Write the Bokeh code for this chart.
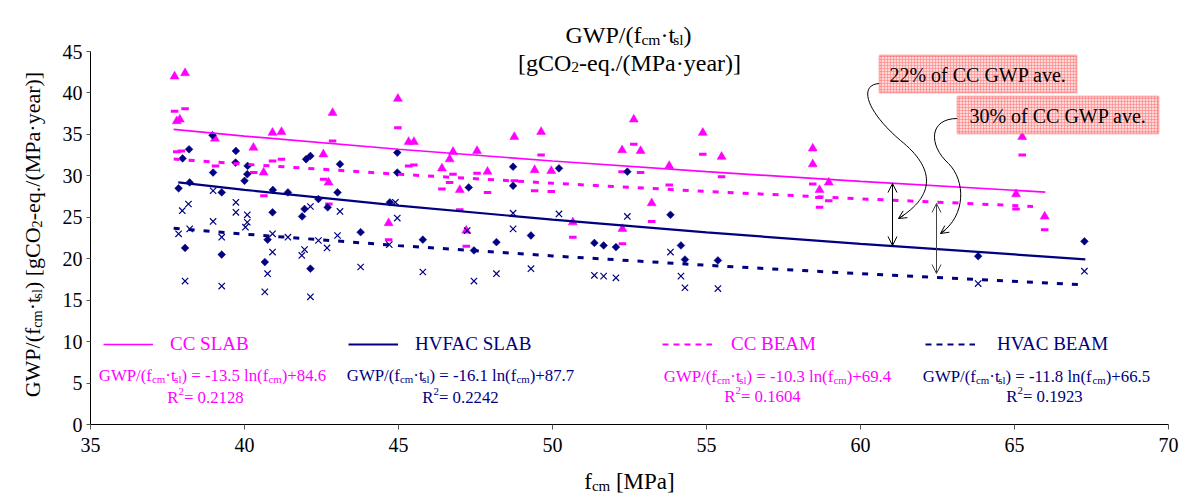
import numpy as np
from bokeh.plotting import figure
from bokeh.models import (Range1d, FixedTicker, Label, Legend, LegendItem,
                          BoxAnnotation, Arrow, OpenHead)
from bokeh.embed import file_html
from bokeh.resources import INLINE

# ---------------- data ----------------
x_ticks = [35, 40, 45, 50, 55, 60, 65, 70]
y_ticks = [0, 5, 10, 15, 20, 25, 30, 35, 40, 45]

cc_slab_fcm = [37.73, 38.07, 37.80, 37.90, 39.04, 40.29, 40.62, 40.91, 41.20, 42.86,
               42.56, 42.73, 44.98, 44.68, 45.33, 45.50, 46.77, 46.66, 46.41, 46.99,
               47.20, 47.55, 47.89, 48.76, 49.63, 49.42, 49.96, 50.66, 52.26, 52.64,
               52.86, 52.27, 53.22, 53.79, 54.88, 55.49, 58.45, 58.45, 58.67, 58.97,
               65.25, 65.05, 65.98]
cc_slab_gwp = [42.0, 42.4, 36.6, 36.8, 34.5, 33.4, 30.4, 35.2, 35.3, 37.6,
               32.6, 29.2, 39.3, 24.3, 34.1, 34.1, 32.9, 32.0, 30.9, 28.3,
               23.4, 33.0, 30.5, 34.7, 35.3, 30.7, 30.6, 24.4, 33.1, 36.8,
               33.0, 23.6, 26.7, 31.2, 35.2, 32.3, 33.3, 31.4, 28.3, 29.2,
               34.7, 27.8, 25.1]

cc_beam_fcm = [37.73, 38.07, 37.80, 37.95, 39.06, 40.30, 40.63, 40.91, 41.20, 42.86,
               42.57, 42.74, 44.98, 44.68, 45.33, 45.50, 46.77, 46.66, 46.41, 46.99,
               47.20, 47.55, 47.89, 48.76, 49.63, 49.42, 49.96, 50.66, 52.26, 52.64,
               52.86, 52.27, 53.22, 53.79, 54.88, 55.49, 58.45, 58.65, 58.67, 58.97,
               65.25, 65.05, 65.98]
cc_beam_gwp = [37.8, 38.1, 32.9, 33.0, 31.2, 30.4, 27.6, 31.8, 32.0, 34.2,
               29.6, 26.6, 35.8, 22.3, 31.2, 31.3, 30.2, 29.2, 28.4, 25.9,
               21.5, 30.3, 28.0, 29.4, 32.5, 28.2, 28.1, 22.6, 30.5, 33.8,
               30.4, 21.8, 24.5, 28.9, 32.6, 29.9, 29.0, 27.4, 26.2, 27.0,
               32.5, 26.0, 23.5]

hvfac_slab_fcm = [38.96, 38.20, 37.99, 38.98, 39.72, 39.71, 40.10, 40.09, 40.00, 38.22,
                  37.86, 39.26, 40.92, 41.41, 42.00, 42.14, 43.10, 42.40, 43.02, 44.96,
                  44.96, 44.72, 40.91, 41.87, 41.95, 42.70, 43.77, 38.07, 39.26, 40.75,
                  40.66, 42.14, 45.79, 47.28, 47.45, 48.18, 48.72, 48.72, 49.30, 50.21,
                  51.36, 51.66, 52.06, 52.43, 53.83, 54.17, 54.30, 55.37, 63.82, 67.27]
hvfac_slab_gwp = [34.9, 33.2, 32.1, 30.4, 33.0, 31.6, 31.2, 30.2, 29.4, 29.2,
                  28.5, 28.0, 28.3, 28.0, 32.0, 32.4, 31.4, 27.2, 28.0, 32.8,
                  30.4, 26.8, 25.6, 25.1, 26.0, 26.2, 23.2, 21.3, 20.5, 22.3,
                  19.6, 18.8, 22.3, 28.6, 21.0, 22.0, 31.1, 28.8, 22.8, 30.9,
                  21.9, 21.6, 21.4, 30.5, 25.3, 21.6, 19.9, 19.8, 20.3, 22.1]

hvac_beam_fcm = [38.18, 37.98, 39.72, 39.72, 40.09, 40.09, 40.03, 38.98, 38.22, 37.86,
                 39.26, 40.91, 40.91, 41.41, 41.95, 41.86, 42.14, 42.40, 42.68, 43.02,
                 43.10, 43.77, 44.90, 44.96, 44.70, 38.07, 39.26, 40.75, 40.66, 42.14,
                 38.98, 45.79, 47.23, 47.45, 48.18, 48.72, 48.72, 49.30, 50.21, 51.36,
                 51.66, 52.06, 52.43, 53.83, 54.17, 54.30, 55.37, 63.82, 67.27]
hvac_beam_gwp = [26.6, 25.8, 26.8, 25.6, 25.3, 24.4, 23.8, 24.5, 23.6, 23.0,
                 22.6, 23.0, 20.8, 22.6, 21.1, 20.4, 26.3, 22.2, 21.3, 22.8,
                 25.7, 19.0, 26.8, 24.9, 21.7, 17.3, 16.7, 18.2, 16.0, 15.4,
                 28.2, 18.4, 23.4, 17.3, 18.2, 25.5, 23.6, 18.8, 25.4, 18.0,
                 17.9, 17.7, 25.1, 20.8, 17.9, 16.5, 16.4, 17.0, 18.5]

# trend lines (log fits)
cc_slab_fit_x = [37.7, 40, 45, 50, 55, 60, 66.0]
cc_slab_fit_y = [35.60, 34.80, 33.21, 31.79, 30.50, 29.33, 28.04]
hvfac_slab_fit_x = [37.85, 40, 45, 50, 55, 60, 67.3]
hvfac_slab_fit_y = [29.20, 28.31, 26.41, 24.72, 23.18, 21.78, 19.93]
cc_beam_fit_x = [37.7, 40, 45, 50, 55, 60, 65.6]
cc_beam_fit_y = [32.02, 31.40, 30.19, 29.11, 28.12, 27.23, 26.31]
hvac_beam_fit_x = [37.7, 40, 45, 50, 55, 60, 67.3]
hvac_beam_fit_y = [23.67, 22.97, 21.58, 20.34, 19.21, 18.19, 16.83]

# ---------------- styling ----------------
MAG = "#FF00FF"
NAVY = "#000080"
FONT = "Liberation Serif"
W, H = 1192, 493

# pixel geometry of the axes box (for placing annotations)
FL, FR, FT, FB = 90, 1168, 51, 424
def X(px):
    return 35 + (px - FL) * 35.0 / (FR - FL)
def Y(py):
    return (FB - py) * 45.0 / (FB - FT)

# the frame covers the whole canvas; axes sit at fixed spots inside it
p = figure(width=W, height=H,
           x_range=Range1d(X(0), X(W)), y_range=Range1d(Y(H), Y(0)),
           output_backend="svg", toolbar_location=None, min_border=0)
p.outline_line_color = None
p.grid.visible = False
p.background_fill_color = "white"
p.border_fill_color = "white"

p.xaxis.fixed_location = 0
p.yaxis.fixed_location = 35
p.xaxis.bounds = (35, 70)
p.yaxis.bounds = (0, 45)
p.axis.axis_line_color = "black"
p.axis.axis_line_width = 1
p.axis.major_tick_line_color = "#555555"
p.axis.minor_tick_line_color = None
p.axis.major_tick_in = 0
p.axis.major_label_text_font = FONT
p.axis.major_label_text_font_size = "20px"
p.axis.major_label_text_color = "black"
p.xaxis.ticker = FixedTicker(ticks=x_ticks)
p.yaxis.ticker = FixedTicker(ticks=y_ticks)
p.xaxis.major_tick_out = 5
p.yaxis.major_tick_out = 4
p.xaxis.major_label_standoff = 8
p.yaxis.major_label_standoff = 4

# ---------------- markers ----------------
p.scatter(cc_slab_fcm, cc_slab_gwp, marker="triangle", size=9,
          fill_color=MAG, line_color=MAG, line_width=0.5)
p.scatter(cc_beam_fcm, cc_beam_gwp, marker="dash", size=7.5,
          line_color=MAG, line_width=3)
p.scatter(hvfac_slab_fcm, hvfac_slab_gwp, marker="square", size=5.5, angle=np.pi / 4,
          fill_color=NAVY, line_color=NAVY, line_width=0.5)
p.scatter(hvac_beam_fcm, hvac_beam_gwp, marker="x", size=9,
          line_color=NAVY, line_width=1.2)

# ---------------- trend lines ----------------
p.line(cc_slab_fit_x, cc_slab_fit_y, line_color=MAG, line_width=1.7)
p.line(hvfac_slab_fit_x, hvfac_slab_fit_y, line_color=NAVY, line_width=2.2)
p.line(cc_beam_fit_x, cc_beam_fit_y, line_color=MAG, line_width=3, line_dash="6 9")
p.line(hvac_beam_fit_x, hvac_beam_fit_y, line_color=NAVY, line_width=3, line_dash="6 9")

# legend keys (renderers holding no visible point, only used for legend glyphs)
k1 = p.line([np.nan], [np.nan], line_color=MAG, line_width=1.7)
k2 = p.line([np.nan], [np.nan], line_color=NAVY, line_width=2.2)
k3 = p.line([np.nan], [np.nan], line_color=MAG, line_width=2.2, line_dash="6 5")
k4 = p.line([np.nan], [np.nan], line_color=NAVY, line_width=2.2, line_dash="6 5")

def add_legend(label, rend, color, gx, gx_label):
    leg = Legend(items=[LegendItem(label=label, renderers=[rend])],
                 location=(gx, H - 355), orientation="horizontal",
                 padding=0, margin=0, spacing=0, glyph_width=50, glyph_height=20,
                 label_height=20, label_standoff=gx_label - gx - 50,
                 border_line_color=None, background_fill_alpha=0,
                 label_text_font=FONT, label_text_font_size="19px",
                 label_text_color=color)
    p.add_layout(leg)

add_legend("CC SLAB", k1, MAG, 103, 170)
add_legend("HVFAC SLAB", k2, NAVY, 348, 415)
add_legend("CC BEAM", k3, MAG, 662, 731)
add_legend("HVAC BEAM", k4, NAVY, 925, 997)

# ---------------- rich text helper ----------------
WID = {' ': 250, '!': 333, '%': 833, '(': 333, ')': 333, '+': 564, ',': 250, '-': 333,
       '.': 250, '/': 278, '=': 564, '[': 333, ']': 333, '·': 250,
       'A': 722, 'B': 667, 'C': 667, 'E': 611, 'F': 556, 'G': 722, 'H': 722, 'L': 611,
       'M': 889, 'O': 722, 'P': 556, 'R': 667, 'S': 556, 'V': 722, 'W': 944,
       'a': 444, 'c': 444, 'e': 444, 'f': 333, 'g': 500, 'l': 278, 'm': 778, 'n': 500,
       'o': 500, 'q': 500, 'r': 333, 's': 389, 't': 278, 'v': 500, 'y': 500}

def tw(s, size):
    return sum(WID.get(ch, 500) for ch in s) * size / 1000.0

def rich(x, y, runs, size, color, align="center", rotated=False):
    sizes = [size * 0.65 if k != "n" else size for _, k in runs]
    widths = [tw(t, s) for (t, _), s in zip(runs, sizes)]
    total = sum(widths)
    pos = {"left": 0, "center": -total / 2, "right": -total}[align]
    for (t, k), s, w in zip(runs, sizes, widths):
        shift = {"n": 0, "sub": -0.2 * size, "sup": 0.38 * size}[k]
        txt = t.lstrip(" ")
        lead = tw(t[:len(t) - len(txt)], s)      # svg drops leading blanks
        if rotated:
            xo, yo, ang = -shift, pos + lead, np.pi / 2
        else:
            xo, yo, ang = pos + lead, shift, 0
        p.add_layout(Label(x=x, y=y, x_offset=xo, y_offset=yo, text=txt, angle=ang,
                           text_font=FONT, text_font_size=f"{s:.1f}px",
                           text_color=color, text_align="left",
                           text_baseline="alphabetic"))
        pos += w

def formula(slope, icpt):
    return [("GWP/(f", "n"), ("cm", "sub"), ("·t", "n"), ("sl", "sub"),
            (f") = {slope} ln(f", "n"), ("cm", "sub"), (f")+{icpt}", "n")]

def r2(v):
    return [("R", "n"), ("2", "sup"), (f"= {v}", "n")]

FS = 16.8
rich(X(212), Y(375), formula("-13.5", "84.6"), FS, MAG)
rich(X(205), Y(397), r2("0.2128"), FS, MAG)
rich(X(460), Y(375), formula("-16.1", "87.7"), FS, NAVY)
rich(X(460), Y(397), r2("0.2242"), FS, NAVY)
rich(X(777), Y(376), formula("-10.3", "69.4"), FS, MAG)
rich(X(762), Y(396), r2("0.1604"), FS, MAG)
rich(X(1036), Y(376), formula("-11.8", "66.5"), FS, NAVY)
rich(X(1044), Y(396), r2("0.1923"), FS, NAVY)

# title
rich(X(628), Y(34), [("GWP/(f", "n"), ("cm", "sub"), ("·t", "n"), ("sl", "sub"), (")", "n")],
     24, "black")
rich(X(628), Y(62), [("[gCO", "n"), ("2", "sub"), ("-eq./(MPa·year)]", "n")], 24, "black")

# axis titles
rich(X(629), Y(481), [("f", "n"), ("cm", "sub"), (" [MPa]", "n")], 23, "black")
rich(X(32), Y(235), [("GWP/(f", "n"), ("cm", "sub"), ("·t", "n"), ("sl", "sub"),
                     (") [gCO", "n"), ("2", "sub"), ("-eq./(MPa·year)]", "n")],
     22, "black", rotated=True)

# ---------------- annotations ----------------
for (l, r, t, b, txt) in [(879, 1076, 55, 92, "22% of CC GWP ave."),
                          (957, 1158, 96, 133, "30% of CC GWP ave.")]:
    p.add_layout(BoxAnnotation(left=X(l), right=X(r), top=Y(t), bottom=Y(b),
                               fill_color="#FFD9D9", fill_alpha=1.0,
                               line_color="#FF2020", line_width=2,
                               hatch_pattern="+", hatch_color="#FF8080",
                               hatch_scale=3, hatch_weight=0.6, hatch_alpha=1.0))
    p.add_layout(Label(x=X((l + r) / 2), y=Y((t + b) / 2 + 1), text=txt,
                       text_font=FONT, text_font_size="20px", text_color="black",
                       text_align="center", text_baseline="middle"))

# double-headed arrows
for ax_px, y0, y1, col in [(892, 183, 245, "black"), (936, 203, 273, "#444444")]:
    p.add_layout(Arrow(start=OpenHead(size=9, line_width=1, line_color=col),
                       end=OpenHead(size=9, line_width=1, line_color=col),
                       x_start=X(ax_px), y_start=Y(y0), x_end=X(ax_px), y_end=Y(y1),
                       line_color=col, line_width=1))

# curved connectors
curves = [
    [(879, 83), (858, 84), (865, 110), (900, 140)],
    [(900, 140), (935, 168), (935, 195), (898, 218)],
    [(957, 118), (928, 118), (928, 145), (948, 163)],
    [(948, 163), (965, 180), (966, 215), (940, 233)],
]
p.bezier(x0=[X(c[0][0]) for c in curves], y0=[Y(c[0][1]) for c in curves],
         cx0=[X(c[1][0]) for c in curves], cy0=[Y(c[1][1]) for c in curves],
         cx1=[X(c[2][0]) for c in curves], cy1=[Y(c[2][1]) for c in curves],
         x1=[X(c[3][0]) for c in curves], y1=[Y(c[3][1]) for c in curves],
         line_color="black", line_width=1)
for (sx, sy, ex, ey) in [(903.1, 214.8, 898, 218), (944.9, 229.6, 940, 233)]:
    p.add_layout(Arrow(end=OpenHead(size=8, line_width=1), x_start=X(sx), y_start=Y(sy),
                       x_end=X(ex), y_end=Y(ey), line_width=1))

open("out.html", "w").write(file_html(p, INLINE))
